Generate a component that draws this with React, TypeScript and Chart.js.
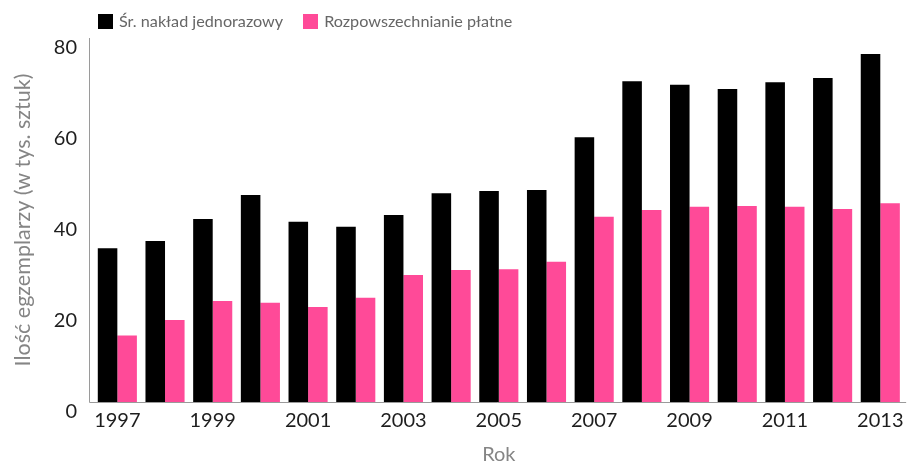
import React, { useEffect, useRef } from "react";
import { Chart, registerables } from "chart.js";

Chart.register(...registerables);

const years = [
  "1997", "1998", "1999", "2000", "2001", "2002", "2003", "2004", "2005",
  "2006", "2007", "2008", "2009", "2010", "2011", "2012", "2013",
];

const averagePrint = [
  33.8, 35.4, 40.2, 45.5, 39.6, 38.5, 41.1, 45.9, 46.4,
  46.6, 58.2, 70.5, 69.7, 68.8, 70.3, 71.2, 76.5,
];

const paidCirculation = [
  14.6, 18.0, 22.2, 21.8, 20.9, 22.9, 27.9, 29.0, 29.2,
  30.8, 40.7, 42.2, 42.9, 43.1, 42.9, 42.4, 43.7,
];

const seriesNames = ["Śr. nakład jednorazowy", "Rozpowszechnianie płatne"];
const seriesColors = ["#000000", "#ff4a98"];
const yTickValues = [0, 20, 40, 60, 80];
const yTitle = "Ilość egzemplarzy (w tys. sztuk)";
const xTitle = "Rok";

const W = 910;
const H = 465;
const FONT = "Lato, 'Open Sans', sans-serif";

const axisLinesPlugin = {
  id: "axisLines",
  afterDatasetsDraw(chart: any) {
    const { ctx, chartArea } = chart;
    const x = Math.round(chartArea.left) - 5 + 0.5;
    const y = Math.round(chartArea.bottom) + 0.5;
    ctx.save();
    ctx.strokeStyle = "#9a9a9a";
    ctx.lineWidth = 1;
    ctx.beginPath();
    ctx.moveTo(x, chartArea.top);
    ctx.lineTo(x, y);
    ctx.lineTo(chartArea.right + 2, y);
    ctx.stroke();
    ctx.restore();
  },
};

export default function App() {
  const canvasRef = useRef<HTMLCanvasElement | null>(null);

  useEffect(() => {
    if (!canvasRef.current) return;
    const chart = new Chart(canvasRef.current, {
      type: "bar",
      data: {
        labels: years,
        datasets: [
          {
            label: seriesNames[0],
            data: averagePrint,
            backgroundColor: seriesColors[0],
            borderWidth: 0,
          },
          {
            label: seriesNames[1],
            data: paidCirculation,
            backgroundColor: seriesColors[1],
            borderWidth: 0,
          },
        ],
      },
      options: {
        responsive: false,
        animation: false,
        devicePixelRatio: 1,
        layout: { padding: { top: 38, left: 0, right: 0, bottom: 0 } },
        datasets: {
          bar: { categoryPercentage: 0.82, barPercentage: 1.0 },
        },
        plugins: {
          legend: { display: false },
          tooltip: { enabled: false },
        },
        scales: {
          x: {
            offset: true,
            grid: { display: false, drawTicks: false },
            border: { display: false },
            ticks: {
              autoSkip: false,
              maxRotation: 0,
              minRotation: 0,
              padding: 6.5,
              color: "#1e1e1e",
              font: { family: FONT, size: 20 },
              callback: (_v: any, i: number) => (i % 2 === 0 ? years[i] : ""),
            },
            title: {
              display: true,
              text: xTitle,
              color: "#858585",
              font: { family: FONT, size: 20, lineHeight: 1 },
              padding: { top: 0, bottom: 0 },
            },
            afterFit: (scale: any) => {
              scale.height = 63;
            },
          },
          y: {
            min: 0,
            max: 80,
            grid: { display: false, drawTicks: false },
            border: { display: false },
            afterBuildTicks: (scale: any) => {
              scale.ticks = yTickValues.map((v) => ({ value: v }));
            },
            ticks: {
              padding: 16.5,
              labelOffset: 9.5,
              color: "#1e1e1e",
              font: { family: FONT, size: 20 },
            },
            title: {
              display: true,
              text: yTitle,
              color: "#858585",
              font: { family: FONT, size: 21.5, lineHeight: 1.2 },
              padding: { top: 10, bottom: 0 },
            },
            afterFit: (scale: any) => {
              scale.width = 93.5;
            },
          },
        },
      },
      plugins: [axisLinesPlugin],
    });
    return () => chart.destroy();
  }, []);

  const legendItem = (i: number) => (
    <div key={i} style={{ display: "flex", alignItems: "center", marginRight: 20 }}>
      <span
        style={{
          display: "inline-block",
          width: 15,
          height: 15,
          background: seriesColors[i],
          marginRight: 6,
        }}
      />
      <span style={{ fontFamily: FONT, fontSize: 16.2, color: "#666666", lineHeight: "16px" }}>
        {seriesNames[i]}
      </span>
    </div>
  );

  return (
    <div
      style={{
        position: "fixed",
        left: 0,
        top: 0,
        width: W,
        height: H,
        background: "#ffffff",
        overflow: "hidden",
      }}
    >
      <canvas ref={canvasRef} width={W} height={H} style={{ display: "block", width: W, height: H }} />
      <div
        style={{
          position: "absolute",
          left: 98,
          top: 13,
          height: 16,
          display: "flex",
          alignItems: "center",
        }}
      >
        {legendItem(0)}
        {legendItem(1)}
      </div>
    </div>
  );
}
